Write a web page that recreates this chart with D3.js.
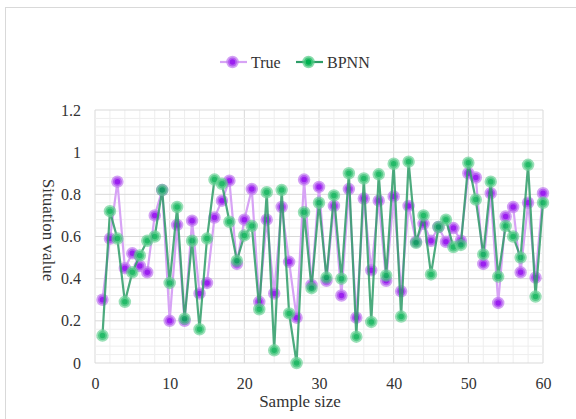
<!DOCTYPE html>
<html><head><meta charset="utf-8">
<script src="https://cdn.jsdelivr.net/npm/d3@7"></script>
<style>body{margin:0;background:#fff}svg{display:block}</style>
</head><body><svg id="c" width="576" height="419"></svg>
<script>
const samples = d3.range(1, 61);
const trueValues = [0.30,0.59,0.86,0.45,0.52,0.46,0.43,0.70,0.82,0.20,
  0.655,0.20,0.675,0.33,0.38,0.69,0.77,0.865,0.47,0.68,
  0.825,0.29,0.68,0.33,0.74,0.48,0.215,0.87,0.37,0.835,
  0.39,0.745,0.32,0.825,0.215,0.78,0.44,0.77,0.39,0.79,
  0.34,0.745,0.575,0.66,0.58,0.645,0.575,0.64,0.58,0.90,
  0.88,0.47,0.805,0.285,0.695,0.74,0.43,0.76,0.405,0.805];
const bpnnValues = [0.13,0.72,0.59,0.29,0.43,0.51,0.58,0.60,0.82,0.38,
  0.74,0.21,0.58,0.16,0.59,0.87,0.85,0.67,0.485,0.605,
  0.65,0.255,0.81,0.06,0.82,0.235,0.0,0.715,0.355,0.76,
  0.405,0.795,0.40,0.90,0.125,0.875,0.195,0.895,0.415,0.945,
  0.22,0.955,0.57,0.70,0.42,0.645,0.68,0.55,0.56,0.95,
  0.775,0.515,0.86,0.41,0.65,0.60,0.50,0.94,0.315,0.76];
const xTicks = [0,10,20,30,40,50,60];
const yTicks = [0,0.2,0.4,0.6,0.8,1.0,1.2];
const seriesNames = ["True","BPNN"];

const FONT = '"Liberation Serif","Times New Roman",serif';
const svg = d3.select("#c");
const L = 95, R = 543, T = 110, B = 363;
const x = d3.scaleLinear().domain([0,60]).range([L,R]);
const y = d3.scaleLinear().domain([0,1.2]).range([B,T]);

svg.append("rect").attr("x",5.5).attr("y",7.5).attr("width",580).attr("height",420)
  .attr("fill","none").attr("stroke","#d9d9d9");

const g = svg.append("g");
g.selectAll(".vx").data(d3.range(0,61,2)).join("line")
  .attr("x1",d=>x(d)).attr("x2",d=>x(d)).attr("y1",T).attr("y2",B)
  .attr("stroke",d=>d%10===0?"#d9d9d9":"#eeeeee").attr("stroke-width",1);
g.selectAll(".hy").data(d3.range(0,31).map(i=>i*0.04)).join("line")
  .attr("y1",d=>y(d)).attr("y2",d=>y(d)).attr("x1",L).attr("x2",R)
  .attr("stroke",(d,i)=>i%5===0?"#d9d9d9":"#eeeeee").attr("stroke-width",1);

const xa = svg.append("g").attr("transform",`translate(0,${B})`)
  .call(d3.axisBottom(x).tickValues(xTicks).tickSize(0).tickPadding(15).tickFormat(d3.format("d")));
const ya = svg.append("g").attr("transform",`translate(${L},0)`)
  .call(d3.axisLeft(y).tickValues(yTicks).tickSize(0).tickPadding(14).tickFormat(d=>d===0?"0":d===1?"1":d3.format(".1f")(d)));
[xa,ya].forEach(a=>{a.select(".domain").remove();a.attr("font-family",null);
  a.selectAll("text").style("font-size","16px").style("font-family",FONT).style("fill","#333");});

svg.append("text").attr("x",300).attr("y",407).attr("text-anchor","middle")
  .style("font-size","17px").style("font-family",FONT).style("fill","#333").text("Sample size");
svg.append("text").attr("transform","translate(43,230) rotate(90)").attr("text-anchor","middle")
  .style("font-size","17px").style("font-family",FONT).style("fill","#333").text("Situation value");

const styles = [
  {line:"#d7a3f5", lw:2.2, fill:"#9b1ff0", halo:"#c07af0", op:1},
  {line:"#2e9d68", lw:2.2, fill:"#00b050", halo:"#55cc88", op:0.85}
];
const data = [trueValues, bpnnValues];
const lineGen = d3.line().x((d,i)=>x(samples[i])).y(d=>y(d));
data.forEach((vals,k)=>{
  const s = styles[k];
  const gg = svg.append("g").attr("opacity",s.op);
  gg.append("path").datum(vals).attr("d",lineGen).attr("fill","none")
    .attr("stroke",s.line).attr("stroke-width",s.lw);
  gg.selectAll("circle").data(vals).join("circle")
    .attr("cx",(d,i)=>x(samples[i])).attr("cy",d=>y(d)).attr("r",4.5)
    .attr("fill",s.fill).attr("stroke",s.halo).attr("stroke-opacity",0.7).attr("stroke-width",3.5);
});

const leg = [{x0:220,x1:247,tx:251},{x0:296,x1:323,tx:327}];
leg.forEach((l,k)=>{
  const s = styles[k];
  svg.append("line").attr("x1",l.x0).attr("x2",l.x1).attr("y1",62).attr("y2",62)
    .attr("stroke",s.line).attr("stroke-width",2.2);
  svg.append("circle").attr("cx",(l.x0+l.x1)/2 - 1).attr("cy",62).attr("r",4.5)
    .attr("fill",s.fill).attr("stroke",s.halo).attr("stroke-opacity",0.7).attr("stroke-width",3.5);
  svg.append("text").attr("x",l.tx).attr("y",67.5)
    .style("font-size","16px").style("font-family",FONT).style("fill","#333").text(seriesNames[k]);
});
</script></body></html>
